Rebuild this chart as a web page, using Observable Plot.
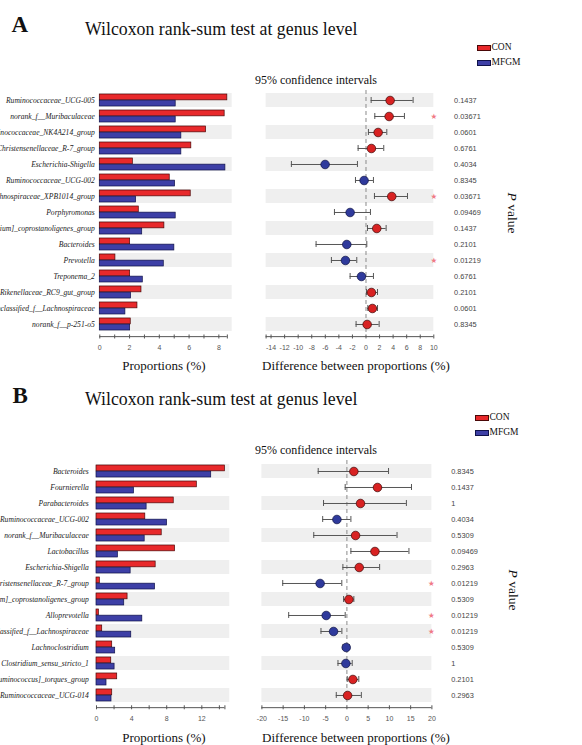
<!DOCTYPE html>
<html><head><meta charset="utf-8">
<script src="https://cdn.jsdelivr.net/npm/d3@7"></script>
<script src="https://cdn.jsdelivr.net/npm/@observablehq/plot@0.6"></script>
<style>
html,body{margin:0;padding:0;background:#fff;}
#root{position:relative;width:582px;height:745px;overflow:hidden;background:#fff;}
.abs{position:absolute;white-space:nowrap;}
</style></head><body><div id="root"></div>
<script>
// ---------------- DATA ----------------
const groups = ["CON", "MFGM"];

const genusA = ["Ruminococcaceae_UCG-005", "norank_f__Muribaculaceae", "Ruminococcaceae_NK4A214_group", "Christensenellaceae_R-7_group", "Escherichia-Shigella", "Ruminococcaceae_UCG-002", "Lachnospiraceae_XPB1014_group", "Porphyromonas", "[Eubacterium]_coprostanoligenes_group", "Bacteroides", "Prevotella", "Treponema_2", "Rikenellaceae_RC9_gut_group", "unclassified_f__Lachnospiraceae", "norank_f__p-251-o5"];
const conA  = [8.57, 8.39, 7.14, 6.15, 2.22, 4.70, 6.11, 2.62, 4.34, 2.04, 1.05, 2.04, 2.80, 2.53, 2.08];
const mfgmA = [5.10, 5.10, 5.48, 5.48, 8.44, 5.06, 2.44, 5.10, 2.85, 5.01, 4.30, 2.89, 2.10, 1.72, 2.04];
const diffA = [3.56, 3.41, 1.79, 0.80, -6.03, -0.28, 3.80, -2.34, 1.59, -2.83, -3.03, -0.67, 0.80, 0.95, 0.17];
const loA   = [0.76, 1.30, 0.36, -1.16, -11.0, -1.55, 1.25, -4.65, 0.22, -7.36, -5.10, -2.34, 0.07, 0.27, -1.46];
const hiA   = [6.95, 5.67, 3.07, 2.62, -1.26, 1.10, 6.12, 0.66, 2.97, 0.12, -1.36, 1.10, 1.70, 1.70, 1.94];
const pA    = [0.1437, 0.03671, 0.0601, 0.6761, 0.4034, 0.8345, 0.03671, 0.09469, 0.1437, 0.2101, 0.01219, 0.6761, 0.2101, 0.0601, 0.8345];

const genusB = ["Bacteroides", "Fournierella", "Parabacteroides", "Ruminococcaceae_UCG-002", "norank_f__Muribaculaceae", "Lactobacillus", "Escherichia-Shigella", "Christensenellaceae_R-7_group", "[Eubacterium]_coprostanoligenes_group", "Alloprevotella", "unclassified_f__Lachnospiraceae", "Lachnoclostridium", "Clostridium_sensu_stricto_1", "[Ruminococcus]_torques_group", "Ruminococcaceae_UCG-014"];
const conB  = [14.63, 11.43, 8.80, 5.56, 7.43, 8.95, 6.74, 0.38, 3.54, 0.27, 0.65, 1.79, 1.68, 2.36, 1.79];
const mfgmB = [13.07, 4.27, 5.71, 8.04, 5.49, 2.44, 3.89, 6.67, 3.16, 5.22, 3.96, 2.13, 2.06, 1.14, 1.71];
const diffB = [1.64, 7.20, 3.20, -2.35, 2.04, 6.60, 2.90, -6.30, 0.47, -4.87, -3.14, -0.16, -0.24, 1.41, 0.16];
const loB   = [-6.75, -0.40, -5.50, -5.70, -7.80, 0.94, -0.94, -15.1, -0.78, -13.7, -6.10, -0.94, -2.10, 0.08, -2.50];
const hiB   = [9.80, 15.2, 14.0, 0.94, 11.8, 14.6, 7.70, -1.20, 1.64, -0.40, -1.18, 0.60, 1.25, 2.80, 3.40];
const pB    = [0.8345, 0.1437, 1, 0.4034, 0.5309, 0.09469, 0.2963, 0.01219, 0.5309, 0.01219, 0.01219, 0.5309, 1, 0.2101, 0.2963];

const barTicksA = [0, 1, 2, 3, 4, 5, 6, 7, 8];
const barLabelsA = [0, 2, 4, 6, 8];
const barTicksB = [0, 2, 4, 6, 8, 10, 12, 14];
const barLabelsB = [0, 4, 8, 12];
const ciTicksA = [-14, -12, -10, -8, -6, -4, -2, 0, 2, 4, 6, 8, 10];
const ciTicksB = [-20, -15, -10, -5, 0, 5, 10, 15, 20];

const titleText = "Wilcoxon rank-sum test at genus level";
const ciTitle = "95% confidence intervals";
const barAxisTitle = "Proportions (%)";
const ciAxisTitle = "Difference between proportions (%)";

// ---------------- STYLE ----------------
const SERIF = "'Liberation Serif','Times New Roman',serif";
const SANS = "'Liberation Sans',Arial,sans-serif";
const RED = "#e8292b", RED_EDGE = "#4a0808";
const BLUE = "#3d3fa6", BLUE_EDGE = "#10124a";
const RED_DOT = "#d82222", BLUE_DOT = "#2f3a9c";
const STRIPE = "#efefef";
const AXIS = "#555";

const root = document.getElementById("root");

function addText(txt, x, baseline, size, o = {}) {
  const d = document.createElement("div");
  d.className = "abs";
  if (o.html) d.innerHTML = txt; else d.textContent = txt;
  const fam = o.family || SERIF;
  const k = fam === SANS ? 0.8465 : 0.8375;
  Object.assign(d.style, {
    left: x + "px", top: (baseline - k * size) + "px",
    fontSize: size + "px", lineHeight: size + "px", fontFamily: fam,
    fontWeight: o.weight || "normal", color: o.color || "#111"
  });
  if (o.anchor === "middle") d.style.transform = "translateX(-50%)";
  root.appendChild(d);
  return d;
}

function place(svg, left, top) {
  svg.style.position = "absolute";
  svg.style.left = left + "px";
  svg.style.top = top + "px";
  svg.style.background = "transparent";
  svg.style.maxWidth = "none";
  root.appendChild(svg);
}

function panel(P) {
  const n = P.genus.length;
  const bw = P.frameH / n;
  const last = P.genus[n - 1];
  const mB = 26;

  // ---- bar plot ----
  const rows = P.genus.map((g, i) => ({g, con: P.con[i], mfgm: P.mfgm[i], i}));
  const xmax = d3.max([...P.con, ...P.mfgm]);
  const domMax = xmax * 1.038;
  const mRbar = 8;
  const barW = P.barRight + mRbar;
  const bar = Plot.plot({
    width: barW, height: P.frameH + mB,
    marginLeft: P.barLeft, marginRight: mRbar, marginTop: 0, marginBottom: mB,
    x: {domain: [0, domMax], label: null},
    y: {type: "band", domain: P.genus, padding: 0, label: null},
    marks: [
      Plot.barX(rows, {filter: d => d.i % 2 === 0, y: "g", x1: 0, x2: domMax, fill: STRIPE, insetTop: 1, insetBottom: 1}),
      Plot.barX(rows, {y: "g", x: "con", fill: RED, stroke: RED_EDGE, strokeWidth: 0.7, insetTop: 2, insetBottom: bw / 2}),
      Plot.barX(rows, {y: "g", x: "mfgm", fill: BLUE, stroke: BLUE_EDGE, strokeWidth: 0.7, insetTop: bw / 2, insetBottom: 2}),
      Plot.axisY({label: null, tickSize: 0, tickPadding: P.barLeft - P.labelRight, fontStyle: "italic", fontFamily: SERIF, fontSize: 7.6, fill: "#222", textOverflow: null}),
      Plot.axisX({label: null, ticks: [...P.barTicks, xmax], tickSize: 4, tickPadding: 6, fontSize: 7, fontFamily: SANS, color: AXIS,
        tickFormat: d => P.barLabels.includes(d) ? String(d) : ""}),
      Plot.ruleY([last], {x1: 0, x2: xmax, dy: bw / 2 + 4, stroke: AXIS})
    ]
  });
  place(bar, 0, P.frameTop);

  // ---- CI plot ----
  const ci = P.genus.map((g, i) => ({g, d: P.diff[i], lo: P.lo[i], hi: P.hi[i], p: P.p[i], i}));
  const svgLeft = barW;
  const ciW = 582 - svgLeft;
  const mL = P.ciLeft - svgLeft;
  const mR = ciW - (P.ciRight - svgLeft);
  const dom = P.ciDomain;
  const ciTickVals = dom[0] < P.ciTicks[0] ? [dom[0], ...P.ciTicks] : P.ciTicks;
  const ciPlot = Plot.plot({
    width: ciW, height: P.frameH + mB,
    marginLeft: mL, marginRight: mR, marginTop: 0, marginBottom: mB,
    x: {domain: dom, label: null},
    y: {type: "band", domain: P.genus, padding: 0, axis: null, label: null},
    marks: [
      Plot.barX(ci, {filter: d => d.i % 2 === 0, y: "g", x1: dom[0], x2: dom[1], fill: STRIPE, insetTop: 1, insetBottom: 1}),
      Plot.ruleX([0], {stroke: "#8a8a8a", strokeDasharray: "4,3", strokeWidth: 1}),
      Plot.ruleY(ci, {y: "g", x1: "lo", x2: "hi", stroke: "#555", strokeWidth: 1}),
      Plot.tickX(ci, {y: "g", x: "lo", stroke: "#555", strokeWidth: 1, insetTop: 5, insetBottom: 5}),
      Plot.tickX(ci, {y: "g", x: "hi", stroke: "#555", strokeWidth: 1, insetTop: 5, insetBottom: 5}),
      Plot.dot(ci, {filter: d => d.d >= 0, x: "d", y: "g", r: 4.3, fill: RED_DOT, stroke: "#3a0505", strokeWidth: 0.7}),
      Plot.dot(ci, {filter: d => d.d < 0, x: "d", y: "g", r: 4.3, fill: BLUE_DOT, stroke: "#0c1040", strokeWidth: 0.7}),
      Plot.text(ci, {filter: d => d.p < 0.05, y: "g", text: () => "★", frameAnchor: "right", dx: P.starX - P.ciRight, fill: "#f07a86", fontSize: 7.5, fontFamily: "DejaVu Sans"}),
      Plot.text(ci, {y: "g", text: d => String(d.p), frameAnchor: "right", dx: P.pvalX - P.ciRight, textAnchor: "start", fontSize: 7.4, fontFamily: SANS, fill: "#444"}),
      Plot.axisX({label: null, ticks: ciTickVals, tickSize: 4, tickPadding: 6, fontSize: 7, fontFamily: SANS, color: AXIS,
        tickFormat: d => P.ciTicks.includes(d) ? String(d) : ""}),
      Plot.ruleY([last], {x1: dom[0], x2: dom[1], dy: bw / 2 + 4, stroke: AXIS})
    ]
  });
  place(ciPlot, svgLeft, P.frameTop);

  // ---- texts ----
  addText(P.letter, P.letterX, P.letterBase, 23, {weight: "bold"});
  addText(titleText, 85, P.titleBase, 17.8);
  addText(ciTitle, 316, P.ciTitleBase, 12, {anchor: "middle"});
  addText(barAxisTitle, 164, P.axisTitleBase, 13, {anchor: "middle"});
  addText(ciAxisTitle, 356, P.axisTitleBase, 13, {anchor: "middle"});

  // legend
  const cols = [[RED, RED_EDGE], [BLUE, BLUE_EDGE]];
  groups.forEach((g, k) => {
    const y = P.legendTop + k * 14.5;
    const sw = document.createElement("div");
    sw.className = "abs";
    Object.assign(sw.style, {left: P.legendX + "px", top: y + "px", width: "12px", height: "4px",
      background: cols[k][0], border: "0.8px solid " + cols[k][1]});
    root.appendChild(sw);
    addText(g, P.legendX + 14.5, y + 6, 9.5);
  });

  // P value (rotated)
  const pv = document.createElement("div");
  pv.className = "abs";
  pv.innerHTML = "<i>P</i> value";
  Object.assign(pv.style, {left: P.pLabelX + "px", top: P.pLabelY + "px", fontFamily: SERIF, fontSize: "13.5px",
    lineHeight: "14px", color: "#111", transform: "translate(-50%,-50%) rotate(90deg)"});
  root.appendChild(pv);
}

panel({
  letter: "A", letterX: 11.5, letterBase: 32.7, titleBase: 35.7,
  legendX: 477, legendTop: 45, ciTitleBase: 84,
  genus: genusA, con: conA, mfgm: mfgmA, diff: diffA, lo: loA, hi: hiA, p: pA,
  barTicks: barTicksA, barLabels: barLabelsA, ciTicks: ciTicksA,
  frameTop: 90, frameH: 244.5,
  barLeft: 99.3, barRight: 231.7, labelRight: 94.3,
  ciLeft: 265.3, ciRight: 433, ciDomain: [-14.73, 10],
  starX: 436.5, pvalX: 453.3,
  axisTitleBase: 370, pLabelX: 512, pLabelY: 213
});

panel({
  letter: "B", letterX: 12.5, letterBase: 403.3, titleBase: 405.7,
  legendX: 475, legendTop: 415, ciTitleBase: 454,
  genus: genusB, con: conB, mfgm: mfgmB, diff: diffB, lo: loB, hi: hiB, p: pB,
  barTicks: barTicksB, barLabels: barLabelsB, ciTicks: ciTicksB,
  frameTop: 460.1, frameH: 245.3,
  barLeft: 96, barRight: 229.3, labelRight: 88.3,
  ciLeft: 261.7, ciRight: 431.7, ciDomain: [-20, 20],
  starX: 434.5, pvalX: 451,
  axisTitleBase: 741.7, pLabelX: 513, pLabelY: 590
});
</script>
</body></html>
